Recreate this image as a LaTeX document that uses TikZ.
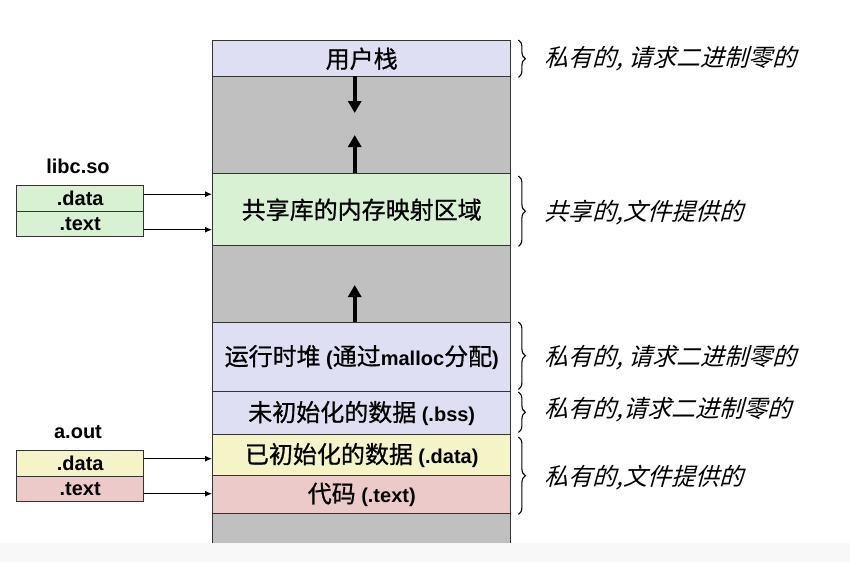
\documentclass[tikz,border=0pt]{standalone}
\usepackage{fontspec}
\setmainfont{Liberation Sans}
\newfontfamily\cjk[FakeBold=0.8]{Noto Sans CJK SC}
\newfontfamily\cjkit[FakeSlant=0.28]{Noto Sans CJK SC}
\usetikzlibrary{decorations.pathreplacing,arrows.meta}
\definecolor{lav}{HTML}{DFDFF3}
\definecolor{gry}{HTML}{C0C0C0}
\definecolor{grn}{HTML}{D9F1D3}
\definecolor{yel}{HTML}{F4F4C6}
\definecolor{pnk}{HTML}{EDCACA}
\definecolor{edgec}{HTML}{333333}
\definecolor{band}{HTML}{F8F8F8}
\newcommand\zh[1]{{\cjk\mdseries\fontsize{24}{27}\selectfont #1}}
\begin{document}
\begin{tikzpicture}[x=1pt,y=-1pt,
  seg/.style={draw=edgec, line width=1.4pt, minimum width=298pt, anchor=north west,
    inner sep=0pt, font=\fontsize{20}{24}\selectfont\bfseries},
  sbox/.style={draw=edgec, line width=1.4pt, minimum width=127pt, anchor=north west,
    inner sep=0pt, font=\fontsize{20}{24}\selectfont\bfseries},
  ptr/.style={-{Latex[length=7pt,width=6pt]}, line width=1.1pt},
  growarrow/.style={-{Triangle[length=12pt,width=13pt]}, line width=4pt},
  brc/.style={decorate, decoration={brace, amplitude=7pt}, line width=1.1pt},
  note/.style={anchor=west, inner sep=0pt, font=\cjkit\fontsize{24}{28}\selectfont},
  lbl/.style={font=\fontsize{20}{24}\selectfont\bfseries}]
\useasboundingbox (0,0) rectangle (850,562);
% main column
\node[seg, fill=lav, minimum height=36pt] (stack) at (212,40) {\zh{用户栈}};
\node[seg, fill=gry, minimum height=97pt] (gap1) at (212,76) {};
\node[seg, fill=grn, minimum height=72pt] (shared) at (212,173) {\zh{共享库的内存映射区域}};
\node[seg, fill=gry, minimum height=77pt] (gap2) at (212,245) {};
\node[seg, fill=lav, minimum height=69pt] (heap) at (212,322) {\zh{运行时堆} (\zh{通过}malloc\zh{分配})};
\node[seg, fill=lav, minimum height=43pt] (bss) at (212,391) {\zh{未初始化的数据} (.bss)};
\node[seg, fill=yel, minimum height=41pt] (data) at (212,434) {\zh{已初始化的数据} (.data)};
\node[seg, fill=pnk, minimum height=38pt] (text) at (212,475) {\zh{代码} (.text)};
\node[seg, fill=gry, minimum height=40pt] (gap3) at (212,513) {};
% growth arrows
\draw[growarrow] ([xshift=-7pt]gap1.north) -- ++(0,37);
\draw[growarrow] ([xshift=-7pt]shared.north) -- ++(0,-38);
\draw[growarrow] ([xshift=-7pt]heap.north) -- ++(0,-37);
% libc.so
\node[lbl] (libc) at (78,166) {libc.so};
\node[sbox, fill=grn, minimum height=26pt] (ldata) at (16,185) {.data};
\node[sbox, fill=grn, minimum height=25pt] (ltext) at (16,211) {.text};
\coordinate (p1) at ([yshift=4.5pt]ldata.east);
\coordinate (p2) at ([yshift=-5.5pt]ltext.east);
\draw[ptr] (p1) -- (p1 -| shared.west);
\draw[ptr] (p2) -- (p2 -| shared.west);
% a.out
\node[lbl] (aout) at (78,432) {a.out};
\node[sbox, fill=yel, minimum height=26pt] (adata) at (16,450) {.data};
\node[sbox, fill=pnk, minimum height=25pt] (atext) at (16,476) {.text};
\coordinate (p3) at ([yshift=5pt]adata.east);
\coordinate (p4) at ([yshift=-4.5pt]atext.east);
\draw[ptr] (p3) -- (p3 -| data.west);
\draw[ptr] (p4) -- (p4 -| text.west);
% braces and notes
\draw[brc] ([xshift=7pt]stack.north east) -- ([xshift=7pt]stack.south east);
\node[note] (n1) at ([xshift=33pt]stack.east) {私有的, 请求二进制零的};
\draw[brc] ([xshift=7pt,yshift=-3pt]shared.north east) -- ([xshift=7pt]shared.south east);
\node[note] (n2) at ([xshift=33pt,yshift=-3pt]shared.east) {共享的,文件提供的};
\draw[brc] ([xshift=7pt]heap.north east) -- ([xshift=7pt,yshift=3pt]heap.south east);
\node[note] (n3) at ([xshift=33pt]heap.east) {私有的, 请求二进制零的};
\draw[brc] ([xshift=7pt,yshift=-1pt]bss.north east) -- ([xshift=7pt,yshift=3pt]bss.south east);
\node[note] (n4) at ([xshift=33pt,yshift=4pt]bss.east) {私有的,请求二进制零的};
\draw[brc] ([xshift=7pt,yshift=-3pt]data.north east) -- ([xshift=7pt]text.south east);
\node[note] (n5) at ([xshift=33pt,yshift=-3pt]text.north east) {私有的,文件提供的};
% screenshot band at the bottom
\fill[band] (0,543) rectangle (850,562);
\end{tikzpicture}
\end{document}
